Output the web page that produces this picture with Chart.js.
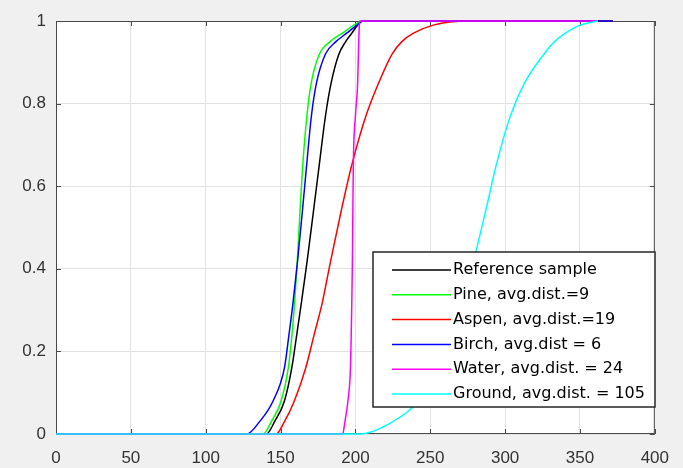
<!DOCTYPE html>
<html>
<head>
<meta charset="utf-8">
<script src="https://cdn.jsdelivr.net/npm/chart.js@4"></script>
<style>
  html, body { margin: 0; padding: 0; background: #f0f0f0; }
</style>
</head>
<body>
<canvas id="chart" width="683" height="468"></canvas>
<script>
const probLevels = [0, 0.03, 0.08, 0.16, 0.24, 0.32, 0.42, 0.54, 0.65, 0.77, 0.85, 0.92, 0.95, 0.97, 0.99, 1];

const referenceX = [140.6, 146, 152.6, 157.5, 160.8, 164, 167.8, 172, 175.8, 180, 183.8, 189, 193.5, 197.5, 201.5, 205];
const pineX      = [138.4, 143.8, 150.4, 155.2, 157.6, 159.4, 161.2, 163, 164.8, 167.6, 170.5, 176, 183, 191, 199, 205];
const aspenX     = [147, 152.6, 159.2, 166.8, 172.4, 178, 183.5, 190.5, 197.5, 207, 215.5, 224.5, 231, 238.5, 252, 275];
const birchX     = [127.5, 136, 145, 152.6, 155.6, 158.4, 161.4, 164.6, 167.4, 170.6, 174, 180, 187, 194, 201, 205];
const waterX     = [191.5, 193, 195, 196.7, 197.2, 197.6, 198, 198.3, 198.6, 200, 201.5, 202, 202.2, 202.4, 202.6, 203];
const groundX    = [203, 225, 242, 255, 264, 271, 279, 287, 294, 303.5, 313, 326, 333, 340, 350, 362];

// where each curve stops along y = 1
const endX = [372, 372, 372, 372, 362, 362];

const seriesNames = [
  'Reference sample',
  'Pine, avg.dist.=9',
  'Aspen, avg.dist.=19',
  'Birch, avg.dist = 6',
  'Water, avg.dist. = 24',
  'Ground, avg.dist. = 105'
];
const seriesX = [referenceX, pineX, aspenX, birchX, waterX, groundX];
const seriesColors = ['#000000', '#00ff00', '#ff0000', '#0000ff', '#ff00ff', '#00ffff'];

const xTicks = [0, 50, 100, 150, 200, 250, 300, 350, 400];
const yTicks = [0, 0.2, 0.4, 0.6, 0.8, 1];

function buildPoints(xs, last) {
  const pts = [{ x: 0, y: 0 }];
  xs.forEach((x, i) => pts.push({ x: x, y: probLevels[i] }));
  if (last > xs[xs.length - 1]) pts.push({ x: last, y: 1 });
  return pts;
}

const background = {
  id: 'background',
  beforeDraw(chart) {
    const { ctx, chartArea: a } = chart;
    ctx.save();
    ctx.fillStyle = '#f0f0f0';
    ctx.fillRect(0, 0, chart.width, chart.height);
    ctx.fillStyle = '#ffffff';
    ctx.fillRect(a.left, a.top, a.right - a.left, a.bottom - a.top);
    ctx.restore();
  }
};

// axes box with inward tick marks
const frame = {
  id: 'frame',
  beforeDatasetsDraw(chart) {
    const { ctx, chartArea: a, scales } = chart;
    ctx.save();
    ctx.strokeStyle = '#4a4a4a';
    ctx.lineWidth = 1;
    ctx.strokeRect(a.left + 0.5, a.top + 0.5, a.right - a.left - 1, a.bottom - a.top - 1);
    ctx.beginPath();
    xTicks.forEach(v => {
      const px = Math.round(scales.x.getPixelForValue(v)) + 0.5;
      ctx.moveTo(px, a.top); ctx.lineTo(px, a.top + 5);
      ctx.moveTo(px, a.bottom); ctx.lineTo(px, a.bottom - 5);
    });
    yTicks.forEach(v => {
      const py = Math.round(scales.y.getPixelForValue(v)) + 0.5;
      ctx.moveTo(a.left, py); ctx.lineTo(a.left + 5, py);
      ctx.moveTo(a.right, py); ctx.lineTo(a.right - 5, py);
    });
    ctx.stroke();
    ctx.restore();
  }
};

const boxLegend = {
  id: 'boxLegend',
  afterDatasetsDraw(chart) {
    const ctx = chart.ctx;
    const x0 = 373, y0 = 252, w = 282, h = 155;
    ctx.save();
    ctx.fillStyle = '#ffffff';
    ctx.fillRect(x0, y0, w, h);
    ctx.strokeStyle = '#262626';
    ctx.lineWidth = 1.5;
    ctx.strokeRect(x0, y0, w, h);
    ctx.font = '16px "DejaVu Sans"';
    ctx.textBaseline = 'middle';
    chart.data.datasets.forEach((ds, i) => {
      const y = 270 + i * 24.8;
      ctx.strokeStyle = ds.borderColor;
      ctx.lineWidth = 1.5;
      ctx.beginPath();
      ctx.moveTo(392, y);
      ctx.lineTo(451, y);
      ctx.stroke();
      ctx.fillStyle = '#000000';
      ctx.fillText(ds.label, 453, y);
    });
    ctx.restore();
  }
};

const tickFont = { family: 'Liberation Sans', size: 17 };

new Chart(document.getElementById('chart'), {
  type: 'line',
  data: {
    datasets: seriesNames.map((name, i) => ({
      label: name,
      data: buildPoints(seriesX[i], endX[i]),
      borderColor: seriesColors[i],
      borderWidth: 1.5,
      pointRadius: 0,
      fill: false,
      cubicInterpolationMode: 'monotone',
      clip: 3,
      order: seriesNames.length - i   // later series drawn on top
    }))
  },
  options: {
    responsive: false,
    animation: false,
    layout: { padding: { top: 21, right: 18, left: 0, bottom: 0 } },
    plugins: { legend: { display: false }, tooltip: { enabled: false } },
    scales: {
      x: {
        type: 'linear', min: 0, max: 400,
        afterBuildTicks(s) { s.ticks = xTicks.map(v => ({ value: v })); },
        afterFit(s) { s.height = 34; },
        ticks: { padding: 14, color: '#333333', font: tickFont, maxRotation: 0 },
        grid: { color: '#e2e2e2', drawTicks: false },
        border: { display: false }
      },
      y: {
        type: 'linear', min: 0, max: 1,
        afterBuildTicks(s) { s.ticks = yTicks.map(v => ({ value: v })); },
        afterFit(s) { s.width = 56; },
        ticks: {
          padding: 10, color: '#333333', font: tickFont,
          callback: v => String(Math.round(v * 10) / 10)
        },
        grid: { color: '#e2e2e2', drawTicks: false },
        border: { display: false }
      }
    }
  },
  plugins: [background, frame, boxLegend]
});
</script>
</body>
</html>
